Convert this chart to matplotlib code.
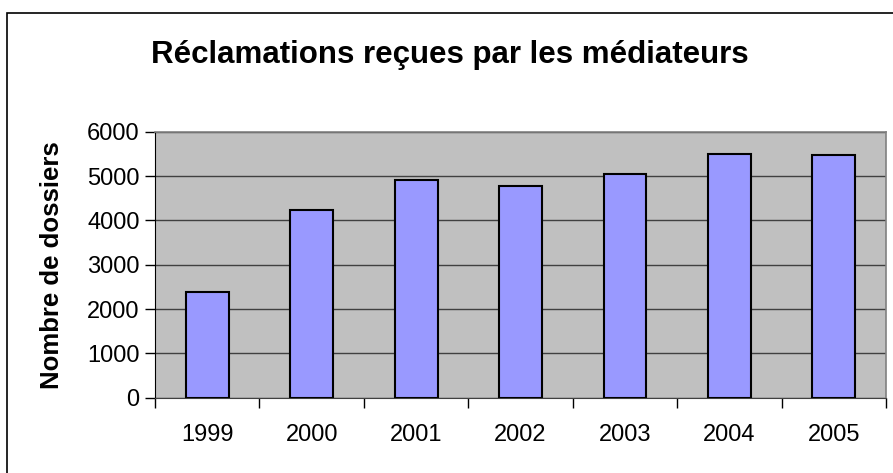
import matplotlib.pyplot as plt
from matplotlib.patches import Rectangle

plt.switch_backend('Agg')
plt.rcParams['font.family'] = ['Liberation Sans', 'DejaVu Sans']

# Données
annees = ['1999', '2000', '2001', '2002', '2003', '2004', '2005']
dossiers = [2390, 4240, 4920, 4780, 5050, 5500, 5470]
y_ticks = [0, 1000, 2000, 3000, 4000, 5000, 6000]

BLEU = '#9999FF'
GRIS = '#C0C0C0'

fig = plt.figure(figsize=(8.93, 4.73), dpi=100)
ax = fig.add_axes([0.1736, 0.1592, 0.8186, 0.5624])

# Cadre autour du graphique (coupé à droite et en bas)
fig.patches.append(Rectangle((7 / 893, -0.05), 1.0, 1 - 13 / 473 + 0.05,
                             transform=fig.transFigure, fill=False,
                             edgecolor='black', linewidth=1.2))

x = list(range(len(annees)))
ax.set_facecolor(GRIS)
ax.bar(x, dossiers, width=0.41, color=BLEU, edgecolor='black', linewidth=1.5, zorder=3)

ax.set_xlim(-0.5, len(annees) - 0.5)
ax.set_ylim(0, 6000)
ax.set_yticks(y_ticks)
ax.yaxis.grid(True, color='#404040', linewidth=1.0, zorder=1)
ax.set_axisbelow(True)

# ticks de catégories entre les barres
ax.set_xticks([i - 0.5 for i in range(len(annees) + 1)], minor=False)
ax.set_xticklabels([])
ax.set_xticks(x, minor=True)
ax.set_xticklabels(annees, minor=True, fontsize=17)
ax.tick_params(axis='x', which='minor', length=0, pad=19)
ax.tick_params(axis='x', which='major', length=7, width=1, direction='out', color='black')
ax.tick_params(axis='y', length=7, width=1, direction='out', labelsize=17, pad=4)

for s in ['top', 'right']:
    ax.spines[s].set_color('#808080')
    ax.spines[s].set_linewidth(1.2)
ax.spines['left'].set_color('black')
ax.spines['bottom'].set_color('#404040')

fig.text(52 / 893, 1 - 265 / 473, 'Nombre de dossiers', rotation=90,
         ha='center', va='center', fontsize=18.5, fontweight='bold')
fig.text(450 / 893, 1 - 63 / 473, 'Réclamations reçues par les médiateurs',
         ha='center', va='baseline', fontsize=22.5, fontweight='bold')

fig.savefig('out.png', dpi=100)
plt.close(fig)
